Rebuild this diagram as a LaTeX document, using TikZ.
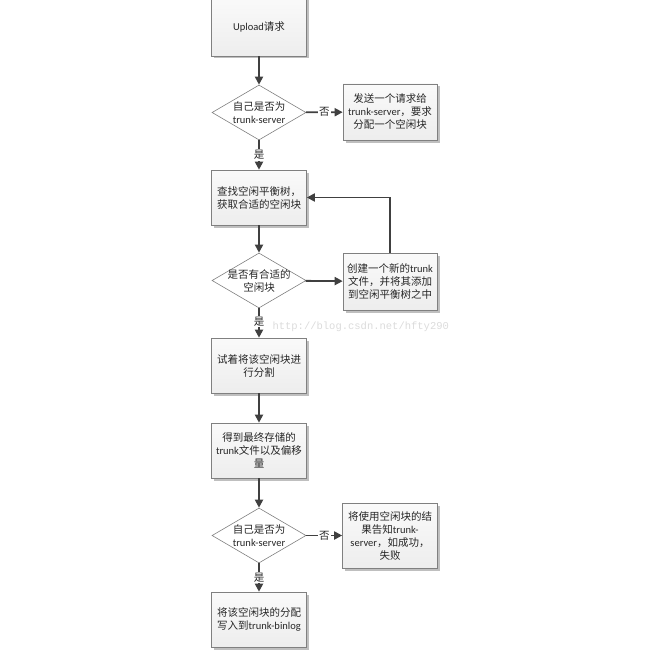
\documentclass[tikz,border=0pt]{standalone}
\usepackage{fontspec}
\setmainfont{Noto Sans CJK SC}
\newfontfamily\lat{Carlito}
\newfontfamily\wmfont{Liberation Mono}
\usetikzlibrary{shapes.geometric,arrows.meta,shadows}
\definecolor{boxc}{RGB}{128,128,128}
\definecolor{arrc}{RGB}{64,64,64}
\definecolor{shadc}{RGB}{175,175,175}
\begin{document}
\begin{tikzpicture}[x=1pt,y=-1pt,
  txt/.style={font=\fontsize{10.5}{13}\selectfont, align=center, text=black!85},
  box/.style={txt, draw=boxc, line width=0.6pt, top color=gray!4, bottom color=gray!14,
    minimum width=95pt, minimum height=56pt, inner sep=2pt,
    drop shadow={shadow xshift=2.5pt, shadow yshift=-2.5pt, fill=shadc, opacity=0.8}},
  dia/.style={diamond, draw=boxc, line width=0.6pt, fill=white, aspect=1.7,
    minimum width=94pt, minimum height=55pt, inner sep=0pt},
  arr/.style={draw=arrc, line width=1.8pt, -{Triangle[length=8pt,width=8pt]}},
  lab/.style={txt, fill=white, inner sep=1pt}]
\useasboundingbox (0,0) rectangle (650,650);

% left column
\node[box, minimum height=58pt] (up) at (259,27) {{\lat Upload}请求};
\node[dia] (d1) at (259,112.5) {};
\node[txt] at (d1) {自己是否为\\{\lat trunk-server}};
\node[box, minimum height=55pt] (find) at (259,197.5) {查找空闲平衡树，\\获取合适的空闲块};
\node[dia] (d2) at (259,280.5) {};
\node[txt] at (d2) {是否有合适的\\空闲块};
\node[box, minimum height=55pt] (split) at (259,365.5) {试着将该空闲块进\\行分割};
\node[box, minimum height=55pt] (get) at (259,450.5) {得到最终存储的\\{\lat trunk}文件以及偏移\\量};
\node[dia] (d3) at (259,535.5) {};
\node[txt] at (d3) {自己是否为\\{\lat trunk-server}};
\node[box, minimum height=55pt] (wr) at (259,619.5) {将该空闲块的分配\\写入到{\lat trunk-binlog}};

% right column
\node[box, minimum width=94pt] (req) at (390,112) {发送一个请求给\\{\lat trunk-server}，要求\\分配一个空闲块};
\node[box, minimum width=94pt, minimum height=57pt] (new) at (390,281.5) {创建一个新的{\lat trunk}\\文件，并将其添加\\到空闲平衡树之中};
\node[box, minimum width=95pt, minimum height=65pt] (tell) at (390,535.5) {将使用空闲块的结\\果告知{\lat trunk-}\\{\lat server}，如成功，\\失败};

% watermark
\node[font=\wmfont\fontsize{10.5}{12}\selectfont, text=gray!28, anchor=west] (wm) at (269,327) {http://blog.csdn.net/hfty290};

% connectors
\draw[arr] (up) -- (d1);
\draw[arr] (d1) -- node[lab] {否} (req);
\draw[arr] (d1) -- node[lab] {是} (find);
\draw[arr] (find) -- (d2);
\draw[arr] (d2) -- (new);
\draw[arr] (new.north) |- (find.east);
\draw[arr] (d2) -- node[lab, pos=0.45] {是} (split);
\draw[arr] (split) -- (get);
\draw[arr] (get) -- (d3);
\draw[arr] (d3) -- node[lab] {否} (tell);
\draw[arr] (d3) -- node[lab] {是} (wr);
\end{tikzpicture}
\end{document}
